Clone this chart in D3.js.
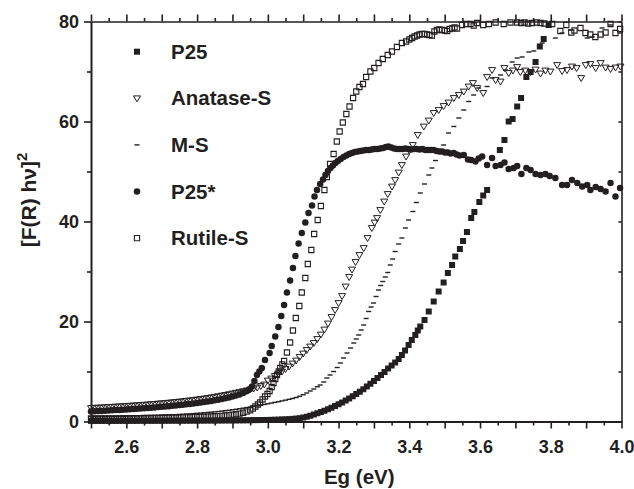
<!DOCTYPE html>
<html>
<head>
<meta charset="utf-8">
<script src="https://cdn.jsdelivr.net/npm/d3@7"></script>
<style>
  body { margin: 0; background: #fff; }
  svg { display: block; font-family: "Liberation Sans", Arial, sans-serif; }
  .axis text { font-size: 18px; font-weight: bold; fill: #231f20; }
  .axis path, .axis line { stroke: #231f20; }
  .title { font-weight: bold; fill: #231f20; }
</style>
</head>
<body>
<div class="chart"></div>
<script>
// energies of the dense low part, shared by all five samples
const egLow = [2.50, 2.51, 2.52, 2.53, 2.54, 2.55, 2.56, 2.57, 2.58, 2.59,
  2.60, 2.61, 2.62, 2.63, 2.64, 2.65, 2.66, 2.67, 2.68, 2.69,
  2.70, 2.71, 2.72, 2.73, 2.74, 2.75, 2.76, 2.77, 2.78, 2.79,
  2.80, 2.81, 2.82, 2.83, 2.84, 2.85, 2.86, 2.87, 2.88, 2.89,
  2.90, 2.91, 2.92, 2.93, 2.94, 2.95];

const p25Low = [0.12, 0.12, 0.12, 0.12, 0.13, 0.13, 0.13, 0.13, 0.13, 0.14,
  0.14, 0.14, 0.14, 0.14, 0.15, 0.15, 0.15, 0.15, 0.15, 0.16,
  0.16, 0.16, 0.16, 0.17, 0.17, 0.17, 0.17, 0.18, 0.18, 0.18,
  0.19, 0.19, 0.19, 0.20, 0.20, 0.20, 0.21, 0.21, 0.22, 0.22,
  0.23, 0.23, 0.24, 0.24, 0.25, 0.26];
const p25High = [[2.96, 0.27], [2.97, 0.28], [2.98, 0.29], [2.99, 0.30], [3.00, 0.31], [3.01, 0.33],
  [3.02, 0.35], [3.03, 0.37], [3.04, 0.40], [3.05, 0.43], [3.06, 0.47], [3.07, 0.52], [3.08, 0.58],
  [3.09, 0.66], [3.10, 0.80], [3.11, 0.95], [3.12, 1.15], [3.13, 1.4], [3.14, 1.65], [3.15, 1.9],
  [3.16, 2.15], [3.17, 2.45], [3.18, 2.75], [3.19, 3.1], [3.20, 3.45], [3.21, 3.8], [3.22, 4.2],
  [3.23, 4.6], [3.24, 5.05], [3.25, 5.5], [3.26, 5.95], [3.27, 6.45], [3.28, 7.0], [3.29, 7.55],
  [3.30, 8.1], [3.31, 8.7], [3.32, 9.3], [3.33, 9.9], [3.34, 10.6], [3.35, 11.2], [3.36, 11.8],
  [3.37, 12.5], [3.379, 13.3], [3.388, 14.2], [3.398, 15.3], [3.407, 16.3], [3.417, 17.3],
  [3.424, 18.2], [3.431, 19.0], [3.443, 20.3], [3.455, 22.0], [3.469, 24.0], [3.483, 26.0],
  [3.497, 27.8], [3.509, 29.7], [3.521, 31.3], [3.530, 33.0], [3.543, 34.5], [3.552, 36.1],
  [3.563, 37.9], [3.575, 40.7], [3.584, 41.9], [3.598, 43.9], [3.609, 45.2], [3.620, 46.3],
  [3.656, 54.3], [3.669, 56.3], [3.681, 60.0], [3.692, 60.5], [3.705, 63.0], [3.716, 64.7],
  [3.731, 68.9], [3.743, 69.9], [3.757, 71.9], [3.769, 75.0], [3.780, 76.5], [3.794, 79.3]];

const anataseLow = [2.70, 2.74, 2.78, 2.82, 2.86, 2.90, 2.94, 2.98, 3.02, 3.06,
  3.10, 3.15, 3.20, 3.25, 3.30, 3.35, 3.40, 3.46, 3.52, 3.58,
  3.64, 3.70, 3.77, 3.84, 3.91, 3.98, 4.06, 4.14, 4.22, 4.31,
  4.40, 4.50, 4.60, 4.71, 4.82, 4.94, 5.06, 5.19, 5.32, 5.46,
  5.60, 5.75, 5.90, 6.06, 6.22, 6.40];
const anataseHigh = [[2.96, 6.6], [2.97, 6.8], [2.98, 7.1], [2.99, 7.4], [3.00, 8.2], [3.01, 8.6],
  [3.02, 9.1], [3.03, 9.6], [3.04, 10.0], [3.05, 10.5], [3.06, 11.0], [3.07, 11.6], [3.08, 12.2],
  [3.09, 12.9], [3.10, 13.6], [3.11, 14.3], [3.12, 15.0], [3.13, 15.7], [3.14, 16.5], [3.15, 17.4],
  [3.16, 18.4], [3.17, 19.6], [3.18, 20.9], [3.19, 22.3], [3.20, 23.7], [3.21, 25.1], [3.22, 27.0],
  [3.23, 28.9], [3.238, 30.4], [3.248, 31.9], [3.259, 33.3], [3.271, 34.7], [3.282, 36.7],
  [3.294, 38.7], [3.302, 39.8], [3.309, 40.7], [3.318, 42.3], [3.329, 44.0], [3.339, 45.5],
  [3.351, 47.0], [3.360, 48.3], [3.370, 49.8], [3.379, 51.3], [3.391, 53.0], [3.400, 54.2],
  [3.410, 55.3], [3.424, 57.3], [3.441, 59.0], [3.455, 60.2], [3.469, 61.7], [3.483, 62.3],
  [3.497, 63.1], [3.511, 63.8], [3.526, 64.7], [3.540, 65.3], [3.554, 66.0], [3.568, 67.0],
  [3.580, 67.7], [3.592, 66.7], [3.609, 65.7], [3.620, 68.9], [3.634, 70.3], [3.644, 68.3],
  [3.658, 68.0], [3.669, 70.7], [3.681, 69.7], [3.693, 70.2], [3.705, 70.9], [3.714, 69.9],
  [3.728, 70.2], [3.743, 69.9], [3.757, 70.4], [3.771, 69.6], [3.785, 70.2], [3.799, 70.0],
  [3.818, 71.3], [3.832, 70.1], [3.846, 70.3], [3.860, 71.0], [3.873, 70.7], [3.886, 68.7],
  [3.899, 71.3], [3.912, 71.5], [3.927, 70.7], [3.941, 71.7], [3.955, 70.8], [3.969, 70.5],
  [3.983, 70.8], [3.997, 71.0]];

const msLow = [0.95, 0.96, 0.97, 0.98, 0.99, 1.00, 1.01, 1.02, 1.03, 1.04,
  1.06, 1.07, 1.09, 1.10, 1.12, 1.14, 1.16, 1.18, 1.20, 1.22,
  1.25, 1.28, 1.31, 1.34, 1.37, 1.41, 1.45, 1.49, 1.53, 1.58,
  1.63, 1.68, 1.74, 1.80, 1.86, 1.93, 2.00, 2.08, 2.16, 2.25,
  2.34, 2.44, 2.55, 2.66, 2.78, 2.90];
const msHigh = [[2.96, 3.02], [2.97, 3.15], [2.98, 3.28], [2.99, 3.41], [3.00, 3.55], [3.01, 3.69],
  [3.02, 3.83], [3.03, 3.97], [3.04, 4.12], [3.05, 4.27], [3.06, 4.43], [3.07, 4.60], [3.08, 4.80],
  [3.09, 5.05], [3.10, 5.35], [3.11, 5.70], [3.12, 6.1], [3.13, 6.5], [3.14, 6.95], [3.148, 7.3],
  [3.158, 7.9], [3.167, 8.7], [3.176, 9.3], [3.186, 10.0], [3.196, 10.8], [3.205, 11.7],
  [3.214, 12.7], [3.224, 13.7], [3.234, 14.7], [3.243, 15.7], [3.250, 16.5], [3.257, 17.3],
  [3.264, 18.3], [3.271, 19.3], [3.278, 20.6], [3.285, 22.0], [3.292, 22.9], [3.299, 23.7],
  [3.306, 25.0], [3.313, 26.3], [3.319, 27.2], [3.325, 28.0], [3.332, 28.9], [3.339, 29.8],
  [3.346, 31.3], [3.353, 32.5], [3.360, 34.0], [3.370, 35.5], [3.379, 36.7], [3.389, 38.7],
  [3.398, 40.3], [3.410, 42.0], [3.420, 43.8], [3.431, 45.7], [3.443, 47.5], [3.455, 49.3],
  [3.464, 50.7], [3.474, 52.2], [3.486, 53.8], [3.497, 55.3], [3.511, 57.7], [3.526, 59.0],
  [3.540, 60.7], [3.554, 62.3], [3.568, 64.0], [3.582, 65.3], [3.596, 66.7], [3.620, 67.0],
  [3.634, 68.7], [3.658, 69.3], [3.672, 70.3], [3.691, 71.9], [3.705, 72.7], [3.719, 72.9],
  [3.738, 73.9], [3.752, 74.1], [3.776, 75.7], [3.813, 76.7], [3.832, 77.7], [3.856, 78.3],
  [3.903, 76.7], [3.917, 76.9], [3.945, 78.7], [3.969, 79.3], [3.996, 77.7]];

const p25StarLow = [2.00, 2.04, 2.08, 2.12, 2.16, 2.20, 2.24, 2.28, 2.32, 2.36,
  2.40, 2.45, 2.50, 2.55, 2.60, 2.65, 2.70, 2.76, 2.82, 2.88,
  2.94, 3.00, 3.07, 3.14, 3.21, 3.28, 3.36, 3.44, 3.52, 3.61,
  3.70, 3.80, 3.90, 4.01, 4.12, 4.24, 4.37, 4.51, 4.66, 4.82,
  5.00, 5.20, 5.42, 5.70, 6.05, 6.50];
const p25StarHigh = [[2.955, 7.0], [2.962, 8.1], [2.969, 9.3], [2.976, 10.0], [2.983, 10.7],
  [2.992, 12.3], [3.005, 13.7], [3.011, 15.1], [3.021, 17.0], [3.030, 18.9], [3.038, 21.1],
  [3.046, 23.3], [3.054, 25.8], [3.063, 28.2], [3.071, 30.7], [3.078, 33.1], [3.087, 35.6],
  [3.096, 37.7], [3.106, 39.8], [3.115, 41.7], [3.125, 43.2], [3.132, 45.0], [3.139, 46.3],
  [3.148, 47.5], [3.156, 48.4], [3.163, 49.3], [3.170, 50.1], [3.177, 50.7], [3.184, 51.2],
  [3.191, 51.7], [3.198, 52.1], [3.206, 52.5], [3.214, 52.9], [3.222, 53.2], [3.230, 53.5],
  [3.238, 53.7], [3.246, 53.9], [3.254, 54.0], [3.262, 54.1], [3.270, 54.2], [3.278, 54.3],
  [3.286, 54.3], [3.294, 54.4], [3.302, 54.5], [3.310, 54.5], [3.318, 54.6], [3.326, 54.7],
  [3.334, 54.9], [3.341, 55.0], [3.349, 54.8], [3.357, 54.6], [3.365, 54.5], [3.373, 54.5],
  [3.381, 54.5], [3.389, 54.6], [3.397, 54.5], [3.405, 54.4], [3.413, 54.5], [3.421, 54.5],
  [3.429, 54.4], [3.437, 54.5], [3.445, 54.3], [3.453, 54.3], [3.461, 54.3], [3.469, 54.3],
  [3.477, 54.1], [3.485, 54.0], [3.493, 54.0], [3.501, 53.8], [3.509, 53.8], [3.517, 53.6],
  [3.526, 53.7], [3.534, 53.4], [3.542, 53.2], [3.554, 53.3], [3.566, 52.4], [3.575, 52.3],
  [3.587, 52.0], [3.596, 52.6], [3.606, 53.0], [3.620, 51.3], [3.634, 52.7], [3.644, 51.1],
  [3.658, 51.3], [3.669, 51.8], [3.681, 50.5], [3.695, 50.7], [3.705, 51.1], [3.717, 49.5],
  [3.731, 50.7], [3.743, 50.3], [3.757, 49.5], [3.771, 49.3], [3.785, 49.5], [3.797, 49.1],
  [3.813, 48.7], [3.832, 47.3], [3.846, 47.3], [3.860, 48.3], [3.875, 47.7], [3.889, 47.0],
  [3.903, 47.3], [3.912, 46.3], [3.927, 46.9], [3.941, 46.5], [3.955, 46.0], [3.969, 47.7],
  [3.983, 45.0], [3.996, 46.7]];

const rutileLow = [0.60, 0.61, 0.61, 0.62, 0.62, 0.63, 0.63, 0.64, 0.64, 0.65,
  0.66, 0.67, 0.67, 0.68, 0.69, 0.70, 0.71, 0.72, 0.73, 0.74,
  0.75, 0.76, 0.77, 0.78, 0.80, 0.81, 0.83, 0.84, 0.86, 0.88,
  0.90, 0.92, 0.95, 0.98, 1.01, 1.05, 1.09, 1.14, 1.20, 1.27,
  1.35, 1.45, 1.58, 1.75, 1.97, 2.25];
const rutileHigh = [[2.958, 2.6], [2.965, 3.0], [2.972, 3.4], [2.978, 3.8], [2.985, 4.4],
  [2.992, 5.0], [2.999, 5.5], [3.005, 6.1], [3.011, 6.9], [3.016, 7.7], [3.021, 8.5], [3.026, 9.3],
  [3.031, 10.0], [3.035, 10.7], [3.041, 11.4], [3.046, 12.1], [3.054, 13.8], [3.063, 15.8],
  [3.071, 18.2], [3.079, 20.7], [3.089, 23.1], [3.096, 25.8], [3.106, 28.7], [3.113, 31.5],
  [3.123, 34.3], [3.131, 37.5], [3.141, 40.3], [3.150, 43.1], [3.160, 46.3], [3.167, 48.9],
  [3.176, 51.5], [3.186, 53.5], [3.195, 56.0], [3.203, 58.0], [3.212, 59.8], [3.222, 61.5],
  [3.231, 63.0], [3.241, 64.7], [3.250, 66.0], [3.259, 66.9], [3.269, 67.5], [3.278, 68.9],
  [3.290, 70.0], [3.301, 70.7], [3.313, 71.7], [3.325, 72.5], [3.339, 73.3], [3.351, 74.0],
  [3.365, 74.9], [3.379, 75.7], [3.391, 76.0], [3.400, 76.4], [3.408, 76.7], [3.415, 77.0],
  [3.422, 77.2], [3.429, 77.4], [3.436, 77.5], [3.443, 77.5], [3.450, 77.4], [3.457, 77.3],
  [3.464, 77.2], [3.471, 78.0], [3.478, 78.3], [3.485, 78.4], [3.492, 78.3], [3.500, 78.2],
  [3.507, 78.1], [3.514, 78.5], [3.521, 78.6], [3.528, 78.8], [3.535, 78.6], [3.549, 79.3],
  [3.561, 79.5], [3.573, 79.5], [3.582, 79.2], [3.592, 79.7], [3.609, 79.3], [3.625, 79.5],
  [3.644, 79.8], [3.667, 79.5], [3.686, 79.8], [3.705, 79.8], [3.716, 79.7], [3.726, 79.8],
  [3.736, 79.6], [3.747, 79.7], [3.760, 79.8], [3.771, 79.7], [3.782, 79.6], [3.804, 79.5],
  [3.827, 78.1], [3.844, 79.3], [3.858, 77.8], [3.867, 78.2], [3.884, 78.7], [3.898, 77.7],
  [3.912, 77.4], [3.926, 76.9], [3.941, 77.4], [3.955, 77.8], [3.969, 79.5], [3.983, 77.7],
  [3.996, 78.5]];

const sampleNames = ["P25", "Anatase-S", "M-S", "P25*", "Rutile-S"];
const xLabelTicks = [2.6, 2.8, 3.0, 3.2, 3.4, 3.6, 3.8, 4.0];
const yLabelTicks = [0, 20, 40, 60, 80];

function joinSeries(low, high) {
  return egLow.map((e, i) => [e, low[i]]).concat(high);
}

const ink = "#231f20";

function markerStyle(shape, sel) {
  if (shape === "square") {
    sel.attr("d", "M-3,-3h6v6h-6z").attr("fill", ink);
  } else if (shape === "openSquare") {
    sel.attr("d", "M-2.6,-2.6h5.2v5.2h-5.2z").attr("fill", "none").attr("stroke", ink).attr("stroke-width", 1.1);
  } else if (shape === "circle") {
    sel.attr("d", d3.symbol(d3.symbolCircle, 33)()).attr("fill", ink);
  } else if (shape === "triangle") {
    sel.attr("d", "M-3.5,-2.4L3.5,-2.4L0,3.5Z").attr("fill", "none").attr("stroke", ink).attr("stroke-width", 1);
  } else {
    sel.attr("d", "M-2.5,-0.7h5v1.4h-5z").attr("fill", ink);
  }
}

function getChartOptions() {
  var chart = {};
  chart.margin = { top: 21.5, right: 12.5, bottom: 67.5, left: 91 };
  chart.width = 634 - chart.margin.left - chart.margin.right;
  chart.height = 489 - chart.margin.top - chart.margin.bottom;
  chart.xScale = d3.scaleLinear().domain([2.5, 4.0]).range([0, chart.width]);
  chart.yScale = d3.scaleLinear().domain([0, 80]).range([chart.height, 0]);
  chart.series = [
    { name: sampleNames[0], shape: "square", data: joinSeries(p25Low, p25High) },
    { name: sampleNames[1], shape: "triangle", data: joinSeries(anataseLow, anataseHigh) },
    { name: sampleNames[2], shape: "dash", data: joinSeries(msLow, msHigh) },
    { name: sampleNames[3], shape: "circle", data: joinSeries(p25StarLow, p25StarHigh) },
    { name: sampleNames[4], shape: "openSquare", data: joinSeries(rutileLow, rutileHigh) }
  ];
  return chart;
}

function drawChart(chart) {
  var svg = d3.select(".chart").append("svg")
    .attr("width", 634)
    .attr("height", 489)
    .append("g")
    .attr("transform", `translate(${chart.margin.left}, ${chart.margin.top})`);

  const xMajor = d3.range(25, 41).map(v => v / 10);
  const xMinor = d3.range(25, 40).map(v => v / 10 + 0.05);
  const yMajor = [0, 20, 40, 60, 80];
  const yMinor = [10, 30, 50, 70];
  const fmtX = d => xLabelTicks.some(t => Math.abs(t - d) < 1e-6) ? d3.format(".1f")(d) : "";

  // bottom
  svg.append("g").attr("class", "axis").attr("transform", `translate(0, ${chart.height})`)
    .call(d3.axisBottom(chart.xScale).tickValues(xMinor).tickSize(4).tickSizeOuter(0).tickFormat(""))
    .call(g => g.select(".domain").remove());
  svg.append("g").attr("class", "axis").attr("transform", `translate(0, ${chart.height})`)
    .call(d3.axisBottom(chart.xScale).tickValues(xMajor).tickSize(7).tickSizeOuter(0).tickPadding(12).tickFormat(fmtX))
    .call(g => g.select(".domain").attr("stroke-width", 2));

  // top
  svg.append("g").attr("class", "axis")
    .call(d3.axisTop(chart.xScale).tickValues(xMinor).tickSize(3.5).tickSizeOuter(0).tickFormat(""))
    .call(g => g.select(".domain").remove());
  svg.append("g").attr("class", "axis")
    .call(d3.axisTop(chart.xScale).tickValues(xMajor).tickSize(7).tickSizeOuter(0).tickFormat(""))
    .call(g => g.select(".domain").attr("stroke-width", 1.6));

  // left
  svg.append("g").attr("class", "axis")
    .call(d3.axisLeft(chart.yScale).tickValues(yMinor).tickSize(4).tickSizeOuter(0).tickFormat(""))
    .call(g => g.select(".domain").remove());
  svg.append("g").attr("class", "axis")
    .call(d3.axisLeft(chart.yScale).tickValues(yLabelTicks).tickSize(7).tickSizeOuter(0).tickPadding(5).tickFormat(d3.format("d")))
    .call(g => g.select(".domain").attr("stroke-width", 2));

  // right
  svg.append("g").attr("class", "axis").attr("transform", `translate(${chart.width}, 0)`)
    .call(d3.axisRight(chart.yScale).tickValues(yMajor.concat(yMinor)).tickSize(-3).tickSizeOuter(0).tickFormat(""))
    .call(g => g.select(".domain").attr("stroke-width", 1.6));

  svg.selectAll(".axis line").attr("stroke-width", 1.6);

  // data markers
  chart.series.forEach(s => {
    svg.append("g").selectAll("path")
      .data(s.data)
      .enter().append("path")
      .attr("transform", d => `translate(${chart.xScale(d[0])}, ${chart.yScale(d[1])})`)
      .call(sel => markerStyle(s.shape, sel));
  });

  // legend
  var legend = svg.append("g").attr("transform", "translate(46, 30.2)");
  chart.series.forEach((s, i) => {
    var row = legend.append("g").attr("transform", `translate(0, ${i * 46.6})`);
    row.append("path").call(sel => markerStyle(s.shape, sel));
    row.append("text")
      .attr("class", "title")
      .attr("x", 34)
      .attr("y", 7)
      .style("font-size", "20.5px")
      .text(s.name);
  });

  // axis titles
  svg.append("text")
    .attr("class", "title")
    .attr("x", chart.width / 2 + 3)
    .attr("y", chart.height + 62)
    .attr("text-anchor", "middle")
    .style("font-size", "20.5px")
    .text("Eg (eV)");

  var yt = svg.append("text")
    .attr("class", "title")
    .attr("transform", `translate(-55, ${200 - chart.margin.top}) rotate(-90)`)
    .attr("text-anchor", "middle")
    .style("font-size", "21px");
  yt.append("tspan").text("[F(R) hν]");
  yt.append("tspan").attr("dy", -9).style("font-size", "15px").text("2");
}

drawChart(getChartOptions());
</script>
</body>
</html>
